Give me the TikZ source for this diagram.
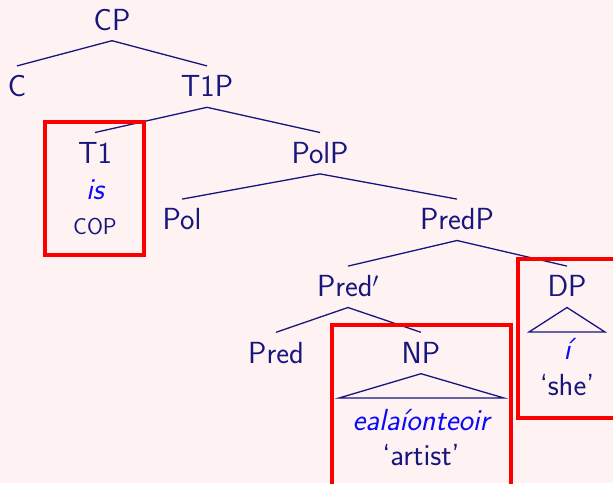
\documentclass[tikz,border=0pt]{standalone}
\usetikzlibrary{positioning}
\definecolor{pagebg}{RGB}{254,242,242}
\definecolor{treeblue}{RGB}{22,22,125}
\definecolor{wordblue}{RGB}{10,10,250}
\definecolor{boxred}{RGB}{250,0,0}
\begin{document}
\begin{tikzpicture}[x=1pt,y=-1pt,
  every node/.style={font=\sffamily\fontsize{30.5}{36}\selectfont, text=treeblue},
  cat/.style={anchor=base, inner xsep=0pt, inner ysep=10.5pt, text height=20pt, text depth=0pt},
  gloss/.style={anchor=base, inner sep=0pt},
  word/.style={gloss, text=wordblue, font=\sffamily\itshape\fontsize{30.5}{36}\selectfont},
  small/.style={gloss, font=\sffamily\fontsize{23}{27}\selectfont},
  branch/.style={draw=treeblue, line width=1.3pt},
  hilite/.style={draw=boxred, line width=3.6pt}]
  % canvas
  \fill[pagebg] (0,0) rectangle (613,483);
  \useasboundingbox (0,0) rectangle (613,483);

  % category labels (x = centre, y = baseline)
  \node[cat] (CP)    at (112,30)    {CP};
  \node[cat] (C)     at (17,96.6)   {C};
  \node[cat] (T1P)   at (207,96.6)  {T1P};
  \node[cat] (T1)    at (95,163.2)  {T1};
  \node[cat] (PolP)  at (320,163.2) {PolP};
  \node[cat] (Pol)   at (182,229.8) {Pol};
  \node[cat] (PredP) at (457,229.8) {PredP};
  \node[cat] (Predb) at (348,296.8) {Pred$'$};
  \node[cat] (DP)    at (567,296.8) {DP};
  \node[cat] (Pred)  at (276,363)   {Pred};
  \node[cat] (NP)    at (421,363)   {NP};

  % branches
  \draw[branch] (C.north) -- (CP.south) -- (T1P.north);
  \draw[branch] (T1.north) -- (T1P.south) -- (PolP.north);
  \draw[branch] (Pol.north) -- (PolP.south) -- (PredP.north);
  \draw[branch] (Predb.north) -- (PredP.south) -- (DP.north);
  \draw[branch] (Pred.north) -- (Predb.south) -- (NP.north);

  % roofs over unanalysed phrases
  \coordinate (npL) at (339,398);
  \coordinate (npR) at (504,398);
  \coordinate (dpL) at (529,332);
  \coordinate (dpR) at (605,332);
  \draw[branch] (npL) -- (NP.south) -- (npR) -- cycle;
  \draw[branch] (dpL) -- (DP.south) -- (dpR) -- cycle;

  % lexical items and glosses
  \node[word]  (is)     at (95,199)  {is};
  \node[small] (cop)    at (95,234)  {COP};
  \node[word]  (ealai)  at (421,430) {ealaíonteoir};
  \node[gloss] (artist) at (421,465) {`artist'};
  \node[word]  (si)     at (567,359) {í};
  \node[gloss] (she)    at (567,395) {`she'};

  % highlighted constituents
  \draw[hilite] (45,122) rectangle (144,255);
  \draw[hilite] (332,325) rectangle (511,495);
  \draw[hilite] (518,259) rectangle (625,418);
\end{tikzpicture}
\end{document}
